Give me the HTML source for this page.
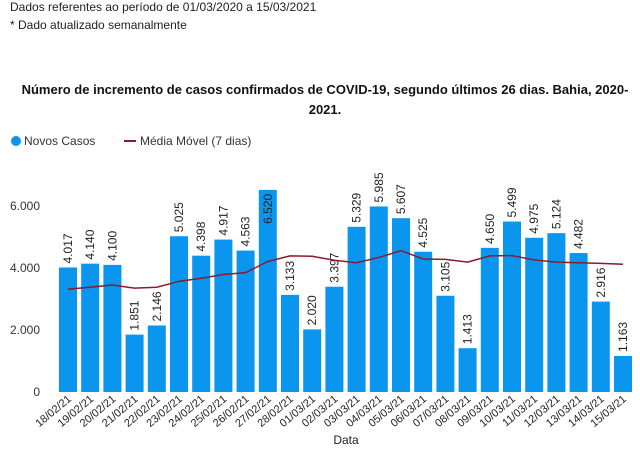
<!DOCTYPE html>
<html><head><meta charset="utf-8"><style>
body{margin:0;width:640px;height:449px;background:#fff;font-family:"Liberation Sans",sans-serif;overflow:hidden;position:relative}
.t{position:absolute;font-size:12px;color:#222}
</style></head><body>
<div class="t" style="left:10px;top:0px">Dados referentes ao período de  01/03/2020 a 15/03/2021</div>
<div class="t" style="left:10px;top:18px">* Dado atualizado semanalmente</div>
<div style="position:absolute;left:20px;top:80px;width:610px;text-align:center;font-weight:bold;font-size:13px;line-height:20px;color:#111">Número de incremento de casos confirmados de COVID-19, segundo últimos 26 dias.  Bahia, 2020-2021.</div>
<svg id="c" width="640" height="449" style="position:absolute;left:0;top:0"></svg>
<script>
const categories=["18/02/21","19/02/21","20/02/21","21/02/21","22/02/21","23/02/21","24/02/21","25/02/21","26/02/21","27/02/21","28/02/21","01/03/21","02/03/21","03/03/21","04/03/21","05/03/21","06/03/21","07/03/21","08/03/21","09/03/21","10/03/21","11/03/21","12/03/21","13/03/21","14/03/21","15/03/21"];
const newCases=[4017,4140,4100,1851,2146,5025,4398,4917,4563,6520,3133,2020,3397,5329,5985,5607,4525,3105,1413,4650,5499,4975,5124,4482,2916,1163];
const movingAvg=[3320,3380,3450,3350,3380,3570,3670,3790,3850,4210,4390,4380,4250,4170,4340,4560,4290,4280,4190,4390,4400,4260,4190,4170,4150,4120];
const yTicks=[0,2000,4000,6000];
const yTickLabels=["0","2.000","4.000","6.000"];
const fmt=v=>v.toLocaleString('de-DE');
const svg=document.getElementById('c');const NS='http://www.w3.org/2000/svg';
function mk(t,a,p){const e=document.createElementNS(NS,t);for(const k in a)e.setAttribute(k,a[k]);(p||svg).appendChild(e);return e;}
const y0=392,pxPer=62/2000;const y=v=>y0-v*pxPer;
const x0=59,pitch=22.2,bw=18;const xl=i=>x0+i*pitch;const xc=i=>xl(i)+bw/2;
// legend
let g=mk('g',{});
let c=mk('circle',{cx:16,cy:141,r:5,fill:'#0a96ef'},g);
let lt=mk('text',{x:24,y:145,'font-size':12,fill:'#333'},g);lt.textContent='Novos Casos';
mk('line',{x1:124,y1:141,x2:136,y2:141,stroke:'#8b1a2b','stroke-width':2},g);
let lt2=mk('text',{x:140,y:145,'font-size':12,fill:'#333'},g);lt2.textContent='Média Móvel (7 dias)';
yTicks.forEach((v,i)=>{const t=mk('text',{x:40,y:y(v)+4,'font-size':12,fill:'#333','text-anchor':'end'});t.textContent=yTickLabels[i];});
newCases.forEach((v,i)=>{
 const r=mk('rect',{x:xl(i),y:y(v),width:bw,height:v*pxPer,fill:'#0a96ef'});
 
 
 const inside=y(v)<200;
 const ty=inside?y(v)+4:y(v)-4;
 const t=mk('text',{x:0,y:0,'font-size':12,fill:'#222','text-anchor':inside?'end':'start',transform:`translate(${xc(i)+4},${ty}) rotate(-90)`});
 
 
 t.textContent=fmt(v);
 const xt=mk('text',{x:0,y:0,'font-size':11,fill:'#222','text-anchor':'end',transform:`translate(${xc(i)+4},${y0+8}) rotate(-40)`});
 
 
 xt.textContent=categories[i];
});
const pl=mk('polyline',{points:movingAvg.map((v,i)=>xc(i)+','+y(v)).join(' '),fill:'none',stroke:'#8b1a2b','stroke-width':1.5});


const xa=mk('text',{x:346,y:444,'font-size':12,fill:'#222','text-anchor':'middle'});


xa.textContent='Data';
</script>
</body></html>
